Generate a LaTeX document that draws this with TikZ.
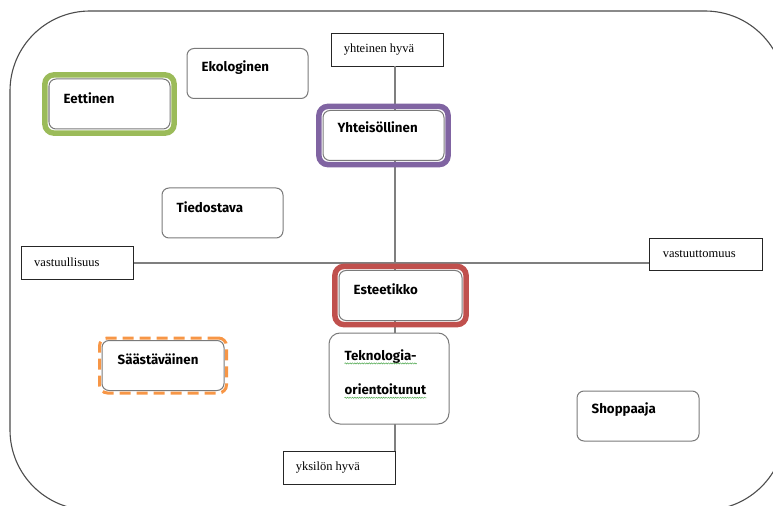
\documentclass[tikz,border=0pt]{standalone}
\usepackage{fontspec}
\usetikzlibrary{fit,decorations.pathmorphing}

\newfontfamily\cardface{Fira Sans}
\newfontfamily\poleface{Liberation Serif}

\definecolor{axisgray}{HTML}{7F7F7F}
\definecolor{cardgray}{HTML}{7A7A7A}
\definecolor{ringgreen}{HTML}{9BBB59}
\definecolor{ringpurple}{HTML}{8064A2}
\definecolor{ringred}{HTML}{C0504D}
\definecolor{ringorange}{HTML}{F79646}
\definecolor{spellgreen}{HTML}{4FA84F}

\tikzset{
    card/.style={draw=cardgray, fill=white, line width=1bp, rounded corners=7bp,
        minimum width=121bp, minimum height=50bp, inner sep=0pt},
    cardlabel/.style={font={\cardface\bfseries\fontsize{13.3bp}{15bp}\selectfont},
        anchor=west, inner sep=0pt, xshift=15bp, yshift=-19.5bp},
    pole/.style={draw=black!85, fill=white, line width=0.9bp,
        minimum width=112bp, minimum height=33bp, inner sep=0pt},
    polelabel/.style={font={\poleface\fontsize{12.5bp}{14bp}\selectfont},
        anchor=west, inner sep=0pt, xshift=13bp},
    ring/.style={draw=#1, line width=5.5bp, rounded corners=9bp, inner sep=3.6bp},
    axis/.style={draw=axisgray, line width=1.4bp},
    spellmark/.style={draw=spellgreen, line width=0.5bp,
        decorate, decoration={snake, amplitude=0.6bp, segment length=2.4bp}},
}

\begin{document}
\begin{tikzpicture}[x=1bp, y=-1bp]
    \useasboundingbox (0,0) rectangle (773,506);
    \begin{scope}
        \clip (0,0) rectangle (773,506);
        \draw[draw=black!70, line width=1.1bp, rounded corners=80bp]
            (10,11) rectangle (785,510);
    \end{scope}

    % poles of the axes
    \node[pole, label={[polelabel]west:yhteinen hyvä}] (common) at (387,49.5) {};
    \node[pole, label={[polelabel]west:yksilön hyvä}] (self) at (339,467.5) {};
    \node[pole, label={[polelabel]west:vastuullisuus}] (resp) at (77.5,262.5) {};
    \node[pole, minimum width=113bp, minimum height=32bp,
        label={[polelabel, xshift=1bp]west:vastuuttomuus}] (irresp) at (705.5,254) {};

    \coordinate (cross) at (395,263);
    \draw[axis] (common.south -| cross) -- (self.north -| cross);
    \draw[axis] (resp.east |- cross) -- (irresp.west |- cross);

    % consumer types
    \node[card, label={[cardlabel]north west:Ekologinen}] (eko) at (247.5,73.5) {};
    \node[card, label={[cardlabel]north west:Eettinen}] (eet) at (109.5,104) {};
    \node[card, label={[cardlabel, yshift=2.5bp]north west:Yhteisöllinen}] (yht) at (383.5,135.5) {};
    \node[card, label={[cardlabel]north west:Tiedostava}] (tie) at (222.5,213) {};
    \node[card, minimum width=123bp, label={[cardlabel]north west:Esteetikko}] (est) at (400.5,295.5) {};
    \node[card, minimum width=120bp, minimum height=91bp, rounded corners=11bp,
        label={[cardlabel, xshift=1bp, yshift=-4.5bp, name=tekA]north west:Teknologia-},
        label={[cardlabel, xshift=1bp, yshift=-37.5bp, name=tekB]north west:orientoitunut}]
        (tek) at (389,378.5) {};
    \node[card, minimum width=122bp, label={[cardlabel, xshift=1bp]north west:Säästäväinen}] (saa) at (163,365.5) {};
    \node[card, minimum width=122bp, label={[cardlabel]north west:Shoppaaja}] (sho) at (638,416) {};

    % highlight rings
    \node[ring=ringgreen, fit=(eet)] {};
    \node[ring=ringpurple, fit=(yht)] {};
    \node[ring=ringred, fit=(est)] {};
    \node[draw=ringorange, line width=3bp, dash pattern=on 11bp off 6bp,
        rounded corners=8bp, inner sep=2bp, fit=(saa)] {};

    % spelling marks
    \draw[spellmark] ([yshift=-3bp]tekA.base west) -- ([yshift=-3bp]tekA.base east);
    \draw[spellmark] ([yshift=-3bp]tekB.base west) -- ([yshift=-3bp]tekB.base east);
\end{tikzpicture}
\end{document}
